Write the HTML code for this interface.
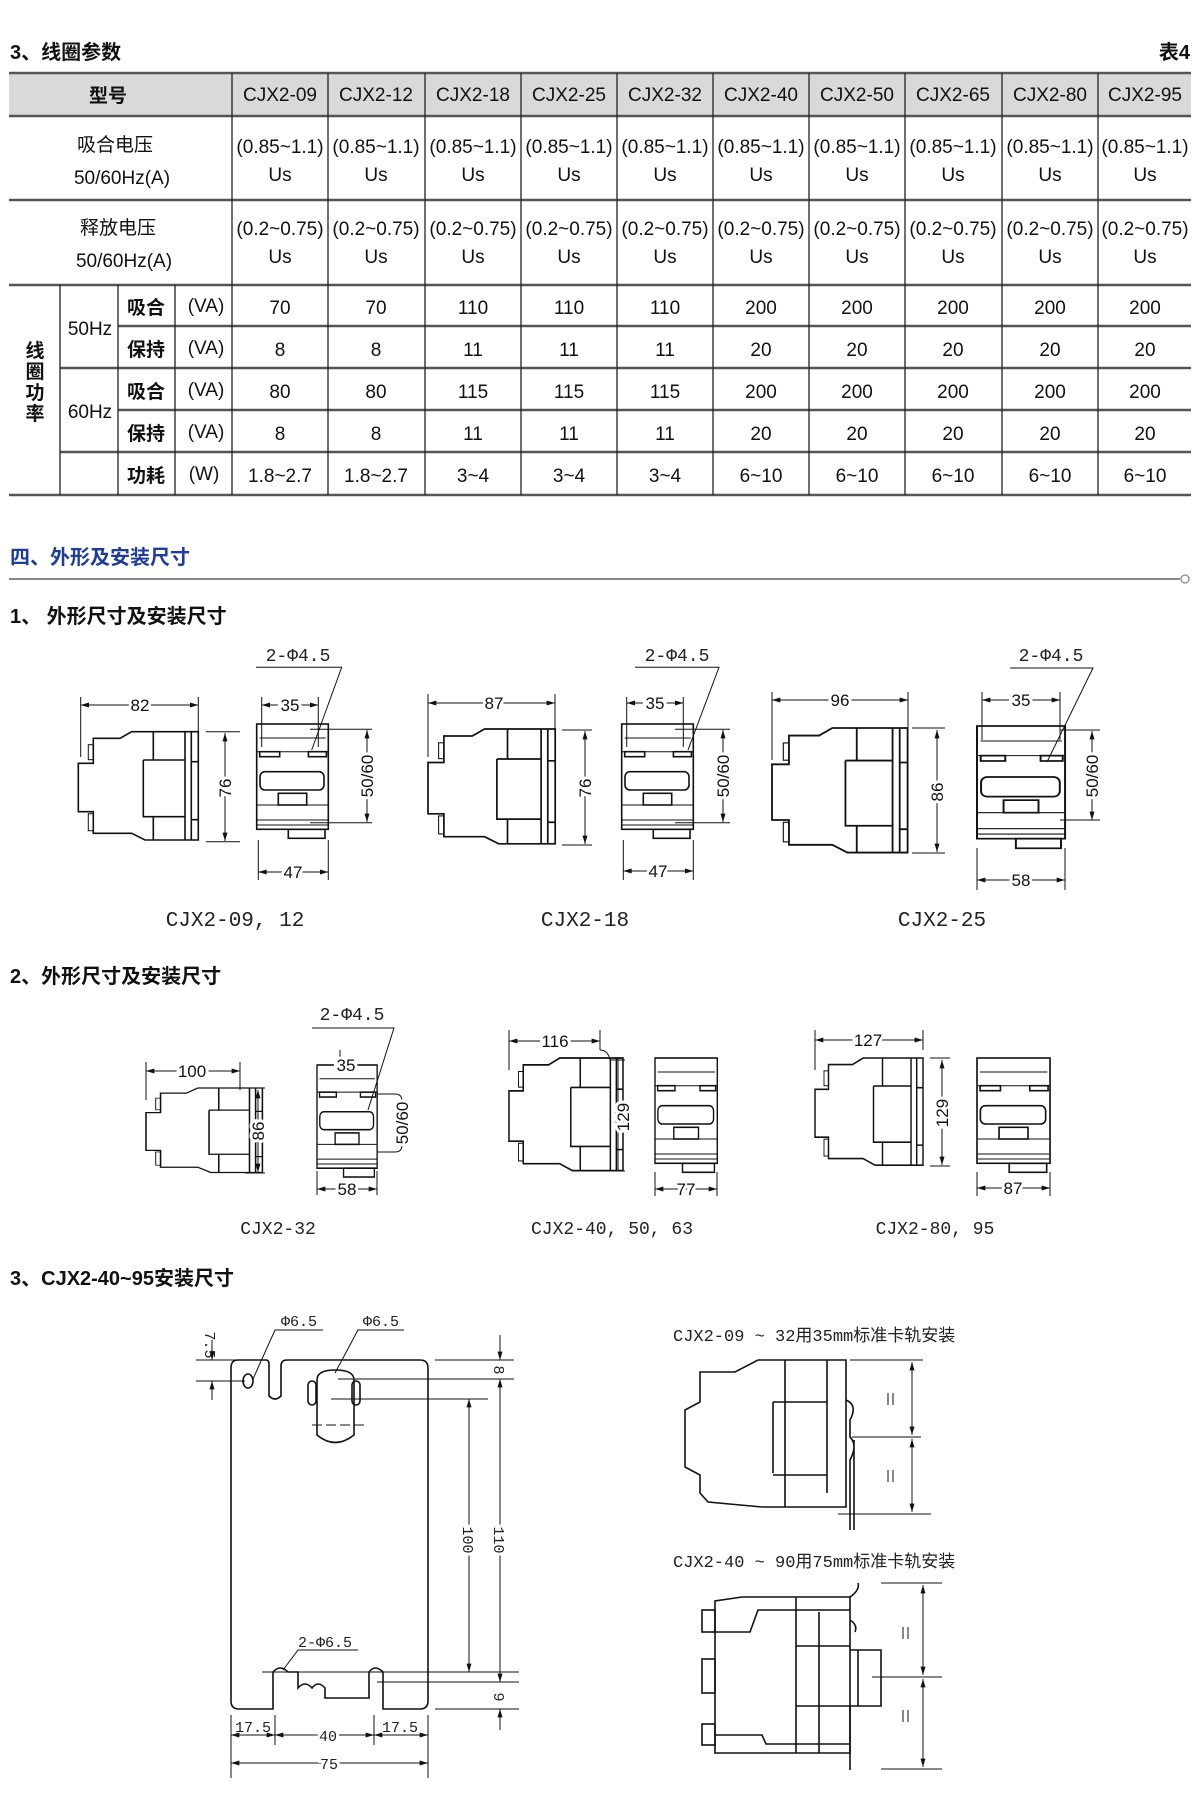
<!DOCTYPE html>
<html><head><meta charset="utf-8"><style>
html,body{margin:0;padding:0;background:#fff}
svg{display:block}
.t{font-family:"Liberation Sans Narrow","Liberation Sans","Noto Sans CJK SC",sans-serif;font-size:19px;fill:#111}
.h{font-family:"Liberation Sans","Noto Sans CJK SC",sans-serif;font-size:20px;font-weight:bold;fill:#111}
.d{font-family:"Liberation Sans",sans-serif;font-size:17px;fill:#111}
.m{font-family:"Liberation Mono","Noto Sans CJK SC",monospace;fill:#222}
.s{fill:none;stroke:#111;stroke-width:1.6}
.l{fill:none;stroke:#111;stroke-width:1}
</style></head><body>
<svg width="1200" height="1803" viewBox="0 0 1200 1803" xmlns="http://www.w3.org/2000/svg">
<defs>
<marker id="a" viewBox="0 0 10 6" refX="10" refY="3" markerWidth="9" markerHeight="5" orient="auto-start-reverse" markerUnits="userSpaceOnUse"><path d="M0,0 L10,3 L0,6 Z" fill="#111"/></marker>
<g id="side"><path class="s" d="M15,6.6 L41.7,6.6 L53.4,0 L120,0 L120,108.3 L66.7,108.3 L53.4,101.6 L15,101.6 L15,80 L0,80 L0,31.6 L15,31.6 Z"/>
<rect class="l" x="10" y="13" width="5" height="15"/><rect class="l" x="10" y="82" width="5" height="17"/>
<path class="s" d="M75,0 V28.3 M106.7,0 V108.3 M65,28.3 H106.7 M65,28.3 V85 H106.7 M75,85 V108.3 M113,0 V108.3 M113,30 H120 M113,88 H120"/></g>
<g id="front"><rect class="s" x="0" y="0" width="71.6" height="105.3"/>
<path class="l" d="M3,14 H69 M0,27.7 H71.6 M0,81 H71.6 M0,96 H71.6 M0,101 H71.6"/>
<rect class="s" x="3" y="27.7" width="20" height="5"/><rect class="s" x="51.7" y="27.7" width="18" height="5"/>
<rect class="s" x="3.3" y="47.7" width="64" height="18.3" rx="5"/><rect class="s" x="21.6" y="69.3" width="28.4" height="11.7"/>
<rect class="s" x="31.6" y="105.3" width="36.7" height="9"/></g>
</defs>

<!-- ===== Table ===== -->
<text class="h" x="10" y="59">3、线圈参数</text>
<text class="h" x="1190" y="59" text-anchor="end">表4</text>
<rect x="9" y="73" width="1182" height="43" fill="#d9d9d9"/>
<g stroke="#555" stroke-width="2.5">
<line x1="9" y1="73" x2="1191" y2="73"/><line x1="9" y1="116" x2="1191" y2="116"/>
<line x1="9" y1="200" x2="1191" y2="200"/><line x1="9" y1="285" x2="1191" y2="285"/>
<line x1="9" y1="495" x2="1191" y2="495"/>
<line x1="118" y1="326" x2="1191" y2="326"/><line x1="60" y1="368" x2="1191" y2="368"/>
<line x1="118" y1="410" x2="1191" y2="410"/><line x1="60" y1="452" x2="1191" y2="452"/>
</g>
<g stroke="#222" stroke-width="1.3">
<line x1="232" y1="73" x2="232" y2="495"/><line x1="328" y1="73" x2="328" y2="495"/><line x1="425" y1="73" x2="425" y2="495"/><line x1="521" y1="73" x2="521" y2="495"/><line x1="617" y1="73" x2="617" y2="495"/><line x1="713" y1="73" x2="713" y2="495"/><line x1="809" y1="73" x2="809" y2="495"/><line x1="905" y1="73" x2="905" y2="495"/><line x1="1002" y1="73" x2="1002" y2="495"/><line x1="1098" y1="73" x2="1098" y2="495"/>
<line x1="60" y1="285" x2="60" y2="495"/><line x1="118" y1="285" x2="118" y2="495"/><line x1="175" y1="285" x2="175" y2="495"/>
</g>
<g class="t" text-anchor="middle">
<text x="108" y="102" font-weight="bold">型号</text>
<text x="280" y="101">CJX2-09</text><text x="376" y="101">CJX2-12</text><text x="473" y="101">CJX2-18</text><text x="569" y="101">CJX2-25</text><text x="665" y="101">CJX2-32</text><text x="761" y="101">CJX2-40</text><text x="857" y="101">CJX2-50</text><text x="953" y="101">CJX2-65</text><text x="1050" y="101">CJX2-80</text><text x="1145" y="101">CJX2-95</text>
<text x="115" y="151">吸合电压</text><text x="122" y="184">50/60Hz(A)</text>
<text x="118" y="234">释放电压</text><text x="124" y="267">50/60Hz(A)</text>
</g>
<g class="t" text-anchor="middle">
<g id="r1"><text x="280" y="153">(0.85~1.1)</text><text x="376" y="153">(0.85~1.1)</text><text x="473" y="153">(0.85~1.1)</text><text x="569" y="153">(0.85~1.1)</text><text x="665" y="153">(0.85~1.1)</text><text x="761" y="153">(0.85~1.1)</text><text x="857" y="153">(0.85~1.1)</text><text x="953" y="153">(0.85~1.1)</text><text x="1050" y="153">(0.85~1.1)</text><text x="1145" y="153">(0.85~1.1)</text></g>
<g id="us"><text x="280" y="181">Us</text><text x="376" y="181">Us</text><text x="473" y="181">Us</text><text x="569" y="181">Us</text><text x="665" y="181">Us</text><text x="761" y="181">Us</text><text x="857" y="181">Us</text><text x="953" y="181">Us</text><text x="1050" y="181">Us</text><text x="1145" y="181">Us</text></g>
<g><text x="280" y="235">(0.2~0.75)</text><text x="376" y="235">(0.2~0.75)</text><text x="473" y="235">(0.2~0.75)</text><text x="569" y="235">(0.2~0.75)</text><text x="665" y="235">(0.2~0.75)</text><text x="761" y="235">(0.2~0.75)</text><text x="857" y="235">(0.2~0.75)</text><text x="953" y="235">(0.2~0.75)</text><text x="1050" y="235">(0.2~0.75)</text><text x="1145" y="235">(0.2~0.75)</text></g>
<g><text x="280" y="263">Us</text><text x="376" y="263">Us</text><text x="473" y="263">Us</text><text x="569" y="263">Us</text><text x="665" y="263">Us</text><text x="761" y="263">Us</text><text x="857" y="263">Us</text><text x="953" y="263">Us</text><text x="1050" y="263">Us</text><text x="1145" y="263">Us</text></g>
<g><text x="280" y="314">70</text><text x="376" y="314">70</text><text x="473" y="314">110</text><text x="569" y="314">110</text><text x="665" y="314">110</text><text x="761" y="314">200</text><text x="857" y="314">200</text><text x="953" y="314">200</text><text x="1050" y="314">200</text><text x="1145" y="314">200</text></g>
<g><text x="280" y="356">8</text><text x="376" y="356">8</text><text x="473" y="356">11</text><text x="569" y="356">11</text><text x="665" y="356">11</text><text x="761" y="356">20</text><text x="857" y="356">20</text><text x="953" y="356">20</text><text x="1050" y="356">20</text><text x="1145" y="356">20</text></g>
<g><text x="280" y="398">80</text><text x="376" y="398">80</text><text x="473" y="398">115</text><text x="569" y="398">115</text><text x="665" y="398">115</text><text x="761" y="398">200</text><text x="857" y="398">200</text><text x="953" y="398">200</text><text x="1050" y="398">200</text><text x="1145" y="398">200</text></g>
<g><text x="280" y="440">8</text><text x="376" y="440">8</text><text x="473" y="440">11</text><text x="569" y="440">11</text><text x="665" y="440">11</text><text x="761" y="440">20</text><text x="857" y="440">20</text><text x="953" y="440">20</text><text x="1050" y="440">20</text><text x="1145" y="440">20</text></g>
<g><text x="280" y="482">1.8~2.7</text><text x="376" y="482">1.8~2.7</text><text x="473" y="482">3~4</text><text x="569" y="482">3~4</text><text x="665" y="482">3~4</text><text x="761" y="482">6~10</text><text x="857" y="482">6~10</text><text x="953" y="482">6~10</text><text x="1050" y="482">6~10</text><text x="1145" y="482">6~10</text></g>
<text x="90" y="335">50Hz</text><text x="90" y="418">60Hz</text>
<g font-weight="bold"><text x="146" y="314">吸合</text><text x="146" y="356">保持</text><text x="146" y="398">吸合</text><text x="146" y="440">保持</text><text x="146" y="482">功耗</text>
<text x="35" y="357">线</text><text x="35" y="378">圈</text><text x="35" y="399">功</text><text x="35" y="420">率</text></g>
<text x="206" y="312">(VA)</text><text x="206" y="354">(VA)</text><text x="206" y="396">(VA)</text><text x="206" y="438">(VA)</text><text x="204" y="480">(W)</text>
</g>

<!-- ===== Section 4 ===== -->
<text class="h" x="10" y="564" style="fill:#1d3c9c">四、外形及安装尺寸</text>
<line x1="9" y1="579" x2="1180" y2="579" stroke="#888" stroke-width="2"/>
<circle cx="1185" cy="579" r="4" fill="#fff" stroke="#888" stroke-width="1.3"/>
<text class="h" x="10" y="623">1、 外形尺寸及安装尺寸</text>

<!-- drawing 1 -->
<use href="#side" x="78.3" y="731.7"/><use href="#front" x="256.7" y="724"/>
<g class="l">
<path d="M80.7,697 V757 M198.3,697 V767 M206,731.7 H240 M206,841.7 H240 M261.7,697 V747 M318.3,697 V747 M310,729.3 H372 M310,822.7 H372 M258.3,840 V880 M328.3,840 V880 M256,667.3 H341.7 L311.7,750"/>
<line x1="80.7" y1="705" x2="198.3" y2="705" marker-start="url(#a)" marker-end="url(#a)"/>
<line x1="225" y1="733" x2="225" y2="841" marker-start="url(#a)" marker-end="url(#a)"/>
<line x1="261.7" y1="705" x2="318.3" y2="705" marker-start="url(#a)" marker-end="url(#a)"/>
<line x1="367" y1="730" x2="367" y2="822" marker-start="url(#a)" marker-end="url(#a)"/>
<line x1="258.3" y1="872" x2="328.3" y2="872" marker-start="url(#a)" marker-end="url(#a)"/>
</g>
<g class="d" text-anchor="middle">
<text x="140" y="711" style="paint-order:stroke;stroke:#fff;stroke-width:6">82</text>
<text x="290" y="711" style="paint-order:stroke;stroke:#fff;stroke-width:6">35</text>
<text x="293" y="878" style="paint-order:stroke;stroke:#fff;stroke-width:6">47</text>
<text transform="translate(231,788) rotate(-90)" style="paint-order:stroke;stroke:#fff;stroke-width:6">76</text>
<text transform="translate(373,776) rotate(-90)" style="paint-order:stroke;stroke:#fff;stroke-width:6">50/60</text>
</g>
<text class="m" x="298" y="661" font-size="18" text-anchor="middle">2-Φ4.5</text>
<text class="m" x="235" y="926" font-size="21" text-anchor="middle">CJX2-09, 12</text>

<!-- drawing 2 -->
<g transform="translate(428,729) scale(1.06,1.06)"><use href="#side"/></g>
<use href="#front" x="621.7" y="724"/>
<g class="l">
<path d="M428,694 V757 M555,694 V767 M562,730 H592 M562,845 H592 M626.7,697 V747 M683.3,697 V747 M675,729.3 H730 M675,822.7 H730 M623.3,840 V880 M693.3,840 V880 M635,667.3 H719 L688,750"/>
<line x1="428" y1="703" x2="555" y2="703" marker-start="url(#a)" marker-end="url(#a)"/>
<line x1="585" y1="731" x2="585" y2="844" marker-start="url(#a)" marker-end="url(#a)"/>
<line x1="626.7" y1="703" x2="683.3" y2="703" marker-start="url(#a)" marker-end="url(#a)"/>
<line x1="723" y1="730" x2="723" y2="822" marker-start="url(#a)" marker-end="url(#a)"/>
<line x1="623.3" y1="871" x2="693.3" y2="871" marker-start="url(#a)" marker-end="url(#a)"/>
</g>
<g class="d" text-anchor="middle">
<text x="494" y="709" style="paint-order:stroke;stroke:#fff;stroke-width:6">87</text>
<text x="655" y="709" style="paint-order:stroke;stroke:#fff;stroke-width:6">35</text>
<text x="658" y="877" style="paint-order:stroke;stroke:#fff;stroke-width:6">47</text>
<text transform="translate(591,788) rotate(-90)" style="paint-order:stroke;stroke:#fff;stroke-width:6">76</text>
<text transform="translate(729,776) rotate(-90)" style="paint-order:stroke;stroke:#fff;stroke-width:6">50/60</text>
</g>
<text class="m" x="677" y="661" font-size="18" text-anchor="middle">2-Φ4.5</text>
<text class="m" x="585" y="926" font-size="21" text-anchor="middle">CJX2-18</text>

<!-- drawing 3 -->
<g transform="translate(772,728) scale(1.13,1.15)"><use href="#side"/></g>
<g transform="translate(977,726) scale(1.23,1.07)"><use href="#front"/></g>
<g class="l">
<path d="M772,692 V760 M908,692 V740 M912,728 H945 M912,853 H945 M982,692 V740 M1060,692 V740 M1060,730 H1100 M1060,820 H1100 M977,848 V890 M1065,848 V890 M1010,668 H1093 L1047,762"/>
<line x1="772" y1="700" x2="908" y2="700" marker-start="url(#a)" marker-end="url(#a)"/>
<line x1="937" y1="730" x2="937" y2="852" marker-start="url(#a)" marker-end="url(#a)"/>
<line x1="982" y1="700" x2="1060" y2="700" marker-start="url(#a)" marker-end="url(#a)"/>
<line x1="1092" y1="731" x2="1092" y2="820" marker-start="url(#a)" marker-end="url(#a)"/>
<line x1="977" y1="880" x2="1065" y2="880" marker-start="url(#a)" marker-end="url(#a)"/>
</g>
<g class="d" text-anchor="middle">
<text x="840" y="706" style="paint-order:stroke;stroke:#fff;stroke-width:6">96</text>
<text x="1021" y="706" style="paint-order:stroke;stroke:#fff;stroke-width:6">35</text>
<text x="1021" y="886" style="paint-order:stroke;stroke:#fff;stroke-width:6">58</text>
<text transform="translate(943,792) rotate(-90)" style="paint-order:stroke;stroke:#fff;stroke-width:6">86</text>
<text transform="translate(1098,776) rotate(-90)" style="paint-order:stroke;stroke:#fff;stroke-width:6">50/60</text>
</g>
<text class="m" x="1051" y="661" font-size="18" text-anchor="middle">2-Φ4.5</text>
<text class="m" x="942" y="926" font-size="21" text-anchor="middle">CJX2-25</text>

<!-- ===== Part 2 ===== -->
<text class="h" x="10" y="983">2、外形尺寸及安装尺寸</text>
<g transform="translate(146,1088) scale(0.97,0.78)"><use href="#side"/></g>
<g transform="translate(317,1065) scale(0.84,0.98)"><use href="#front"/></g>
<g class="l">
<path d="M146,1062 V1100 M240,1062 V1090 M245,1088 H265 M245,1173 H265 M312,1028 H394 L368,1110 M340,1050 V1070 M317,1171 V1195 M377,1171 V1195"/>
<line x1="146" y1="1071" x2="240" y2="1071" marker-start="url(#a)" marker-end="url(#a)"/>
<line x1="258" y1="1090" x2="258" y2="1172" marker-start="url(#a)" marker-end="url(#a)"/>
<line x1="317" y1="1189" x2="377" y2="1189" marker-start="url(#a)" marker-end="url(#a)"/>
<path d="M377,1094 H395 Q402,1094 402,1101 V1145 Q402,1152 395,1152 H377"/>
</g>
<g class="d" text-anchor="middle">
<text x="192" y="1077" style="paint-order:stroke;stroke:#fff;stroke-width:6">100</text>
<text x="346" y="1071" style="paint-order:stroke;stroke:#fff;stroke-width:6">35</text>
<text x="347" y="1195" style="paint-order:stroke;stroke:#fff;stroke-width:6">58</text>
<text transform="translate(264,1131) rotate(-90)" style="paint-order:stroke;stroke:#fff;stroke-width:6">86</text>
<text transform="translate(408,1123) rotate(-90)" style="paint-order:stroke;stroke:#fff;stroke-width:6">50/60</text>
</g>
<text class="m" x="352" y="1020" font-size="18" text-anchor="middle">2-Φ4.5</text>
<text class="m" x="278" y="1234" font-size="18" text-anchor="middle">CJX2-32</text>

<g transform="translate(509,1058) scale(0.95,1.04)"><use href="#side"/></g>
<g transform="translate(655,1058) scale(0.87,1.0)"><use href="#front"/></g>
<g class="l">
<path d="M509,1030 V1070 M600,1030 V1050 M600,1050 Q608,1050 610,1060 M618,1058 V1171 M610,1060 H625 M610,1171 H625 M655,1172 V1196 M717,1172 V1196"/>
<line x1="509" y1="1041" x2="600" y2="1041" marker-start="url(#a)" marker-end="url(#a)"/>
<line x1="655" y1="1189" x2="717" y2="1189" marker-start="url(#a)" marker-end="url(#a)"/>
</g>
<g class="d" text-anchor="middle">
<text x="555" y="1047" style="paint-order:stroke;stroke:#fff;stroke-width:6">116</text>
<text x="686" y="1195" style="paint-order:stroke;stroke:#fff;stroke-width:6">77</text>
<text transform="translate(629,1117) rotate(-90)" style="paint-order:stroke;stroke:#fff;stroke-width:6">129</text>
</g>
<text class="m" x="612" y="1234" font-size="18" text-anchor="middle">CJX2-40, 50, 63</text>

<g transform="translate(815,1058) scale(0.9,0.99)"><use href="#side"/></g>
<g transform="translate(977,1058) scale(1.02,1.0)"><use href="#front"/></g>
<g class="l">
<path d="M815,1030 V1070 M923,1030 V1050 M930,1058 H950 M930,1166 H950 M977,1172 V1196 M1050,1172 V1196"/>
<line x1="815" y1="1040" x2="923" y2="1040" marker-start="url(#a)" marker-end="url(#a)"/>
<line x1="942" y1="1060" x2="942" y2="1165" marker-start="url(#a)" marker-end="url(#a)"/>
<line x1="977" y1="1188" x2="1050" y2="1188" marker-start="url(#a)" marker-end="url(#a)"/>
</g>
<g class="d" text-anchor="middle">
<text x="868" y="1046" style="paint-order:stroke;stroke:#fff;stroke-width:6">127</text>
<text x="1013" y="1194" style="paint-order:stroke;stroke:#fff;stroke-width:6">87</text>
<text transform="translate(948,1113) rotate(-90)" style="paint-order:stroke;stroke:#fff;stroke-width:6">129</text>
</g>
<text class="m" x="935" y="1234" font-size="18" text-anchor="middle">CJX2-80, 95</text>

<!-- ===== Part 3 ===== -->
<text class="h" x="10" y="1285">3、CJX2-40~95安装尺寸</text>
<!-- plate -->
<path class="s" d="M238,1360 H266 Q269,1360 269,1364 V1396 Q275,1402 281,1396 V1366 Q281,1360 287,1360 H420 Q428,1360 428,1368 V1701 Q428,1709 420,1709 H383 V1672 Q375,1664 369,1672 V1698 H325 V1688 Q318,1680 312,1688 Q305,1680 298,1688 V1672 H288 V1672 Q280,1664 273,1672 V1709 H239 Q231,1709 231,1701 V1368 Q231,1360 238,1360 Z"/>
<ellipse class="s" cx="248" cy="1381" rx="5" ry="7"/>
<path class="s" d="M317,1380 Q317,1370 335,1370 Q354,1370 354,1380 V1435 Q335,1450 317,1435 Z"/>
<rect class="s" x="308" y="1381" width="8" height="24" rx="4"/><rect class="s" x="352" y="1381" width="8" height="24" rx="4"/>
<path class="l" d="M312,1425 H367" stroke-dasharray="10,4"/>
<g class="l">
<path d="M196,1360 H245 M196,1381 H245 M435,1360 H514 M338,1379 H514 M331,1399 H488 M262,1672 H519 M377,1682 H519 M435,1709 H519 M231,1715 V1778 M428,1715 V1778 M275,1715 V1745 M374,1715 V1745"/>
<path d="M253,1379 L275,1330 H323 M335,1373 L358,1330 H404 M283,1670 L298,1650 H358"/>
<line x1="212" y1="1340" x2="212" y2="1360" marker-end="url(#a)"/><line x1="212" y1="1400" x2="212" y2="1381" marker-end="url(#a)"/>
<line x1="500" y1="1335" x2="500" y2="1360" marker-end="url(#a)"/>
<line x1="469" y1="1399" x2="469" y2="1672" marker-start="url(#a)" marker-end="url(#a)"/>
<line x1="500" y1="1379" x2="500" y2="1682" marker-start="url(#a)" marker-end="url(#a)"/>
<line x1="500" y1="1730" x2="500" y2="1709" marker-end="url(#a)"/>
<line x1="231" y1="1735" x2="275" y2="1735" marker-start="url(#a)" marker-end="url(#a)"/>
<line x1="275" y1="1735" x2="374" y2="1735" marker-start="url(#a)" marker-end="url(#a)"/>
<line x1="374" y1="1735" x2="428" y2="1735" marker-start="url(#a)" marker-end="url(#a)"/>
<line x1="231" y1="1763" x2="428" y2="1763" marker-start="url(#a)" marker-end="url(#a)"/>
</g>
<g class="m" font-size="15" text-anchor="middle">
<text x="299" y="1326">Φ6.5</text><text x="381" y="1326">Φ6.5</text><text x="325" y="1647">2-Φ6.5</text>
<text x="253" y="1732">17.5</text><text x="400" y="1732">17.5</text>
<text x="328" y="1741" style="paint-order:stroke;stroke:#fff;stroke-width:6">40</text>
<text x="329" y="1769" style="paint-order:stroke;stroke:#fff;stroke-width:6">75</text>
<text transform="translate(205,1345) rotate(90)">7.5</text>
<text transform="translate(494,1370) rotate(90)">8</text>
<text transform="translate(463,1540) rotate(90)" style="paint-order:stroke;stroke:#fff;stroke-width:6">100</text>
<text transform="translate(494,1540) rotate(90)" style="paint-order:stroke;stroke:#fff;stroke-width:6">110</text>
<text transform="translate(494,1697) rotate(90)">9</text>
</g>

<!-- right drawings -->
<text class="m" x="673" y="1341" font-size="17">CJX2-09 ~ 32用35mm标准卡轨安装</text>
<path class="s" d="M700,1372 H735 L758,1360 H846 V1507 H762 L708,1502 L700,1493 V1475 L685,1467 V1410 L700,1402 Z"/>
<path class="s" d="M785,1360 V1507 M827,1360 V1493 M773,1402 V1473 M773,1402 H827 M773,1475 H827 M846,1400 Q858,1405 850,1420 V1437 Q858,1445 850,1460 V1530 M854,1440 V1530"/>
<g class="l"><path d="M850,1360 H923 M852,1437 H921 M838,1514 H931"/>
<line x1="912" y1="1362" x2="912" y2="1435" marker-start="url(#a)" marker-end="url(#a)"/>
<line x1="912" y1="1439" x2="912" y2="1512" marker-start="url(#a)" marker-end="url(#a)"/>
<path d="M888,1393 V1405 M893,1393 V1405 M888,1470 V1482 M893,1470 V1482"/></g>

<text class="m" x="673" y="1567" font-size="17">CJX2-40 ~ 90用75mm标准卡轨安装</text>
<path class="s" d="M715,1612 V1601 L742,1597 H850 V1753 H715 Z"/>
<path class="s" d="M796,1597 V1753 M819,1612 V1753 M796,1610 H850 M796,1646 H850 M796,1706 H850 M796,1744 H850 M715,1632 H750 L758,1610 H796 M715,1735 H762 L766,1744 H796 M850,1650 H881 V1706 H850 M858,1650 V1706 M850,1597 Q860,1590 858,1583 M850,1620 Q858,1625 855,1632 M850,1706 V1770"/>
<rect class="s" x="702" y="1610" width="13" height="22"/><rect class="s" x="702" y="1659" width="13" height="34"/><rect class="s" x="702" y="1724" width="13" height="21"/>
<g class="l"><path d="M881,1583 H942 M872,1677 H942 M881,1769 H942"/>
<line x1="923" y1="1585" x2="923" y2="1675" marker-start="url(#a)" marker-end="url(#a)"/>
<line x1="923" y1="1679" x2="923" y2="1767" marker-start="url(#a)" marker-end="url(#a)"/>
<path d="M903,1627 V1639 M908,1627 V1639 M903,1710 V1722 M908,1710 V1722"/></g>
</svg>
</body></html>
